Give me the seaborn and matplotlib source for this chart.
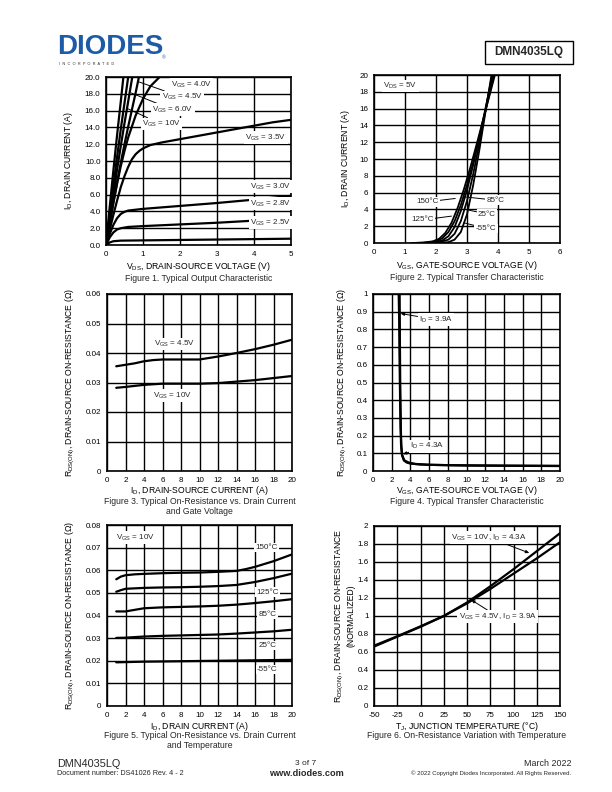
import matplotlib
matplotlib.use("Agg")
import matplotlib.pyplot as plt
from matplotlib.patches import Rectangle
import seaborn as sns

sns.set_theme(style="white")
plt.rcParams["font.family"] = ["Liberation Sans", "DejaVu Sans"]
plt.rcParams["mathtext.fontset"] = "custom"
plt.rcParams["mathtext.rm"] = "Liberation Sans"
plt.rcParams["mathtext.it"] = "Liberation Sans:italic"
plt.rcParams["mathtext.bf"] = "Liberation Sans:bold"
plt.rcParams["axes.unicode_minus"] = False

# ---------------- Figure 1 data: output characteristic ----------------
f1_10v_x = [0, 0.1, 0.2, 0.3, 0.4, 0.47]
f1_10v_y = [0, 4.5, 8.9, 13.1, 17.1, 20]
f1_8v_x = [0, 0.1, 0.2, 0.3, 0.4, 0.5, 0.6]
f1_8v_y = [0, 3.6, 7.1, 10.5, 13.8, 16.9, 20]
f1_6v_x = [0, 0.1, 0.2, 0.3, 0.4, 0.5, 0.6, 0.71]
f1_6v_y = [0, 3.1, 6.1, 9.0, 11.8, 14.5, 17.1, 20]
f1_45v_x = [0, 0.1, 0.2, 0.3, 0.4, 0.5, 0.6, 0.7, 0.8, 0.89]
f1_45v_y = [0, 2.6, 5.1, 7.5, 9.8, 12.0, 14.1, 16.1, 18.1, 20]
f1_40v_x = [0, 0.1, 0.2, 0.3, 0.4, 0.5, 0.6, 0.8, 1.0, 1.2, 1.45]
f1_40v_y = [0, 2.5, 5.0, 7.3, 9.4, 11.2, 12.8, 15.4, 17.4, 18.9, 20]
f1_35v_x = [0, 0.1, 0.2, 0.3, 0.4, 0.5, 0.6, 0.7, 0.8, 0.9, 1.0, 1.2, 1.5, 2, 2.5, 3, 3.5, 4, 4.5, 5]
f1_35v_y = [0, 1.8, 3.6, 5.3, 6.9, 8.2, 9.3, 10.2, 10.8, 11.2, 11.5, 11.9, 12.2, 12.6, 13.0, 13.4, 13.8, 14.2, 14.6, 14.9]
f1_30v_x = [0, 0.1, 0.2, 0.3, 0.4, 0.5, 0.6, 0.8, 1, 2, 3, 4, 5]
f1_30v_y = [0, 1.3, 2.4, 3.2, 3.7, 3.95, 4.1, 4.2, 4.3, 4.65, 5.0, 5.4, 5.85]
f1_28v_x = [0, 0.1, 0.2, 0.3, 0.4, 0.6, 1, 2, 3, 4, 5]
f1_28v_y = [0, 0.9, 1.5, 1.85, 2.0, 2.15, 2.25, 2.45, 2.65, 2.9, 3.15]
f1_25v_x = [0, 0.1, 0.2, 0.4, 1, 2, 3, 4, 5]
f1_25v_y = [0, 0.3, 0.45, 0.52, 0.55, 0.6, 0.65, 0.7, 0.75]

# ---------------- Figure 2 data: transfer characteristic ----------------
f2_150_x = [1.2, 1.6, 1.9, 2.1, 2.3, 2.5, 2.7, 2.9, 3.1, 3.3, 3.5, 3.7, 3.9]
f2_150_y = [0, 0.05, 0.2, 0.5, 1.2, 2.4, 4.2, 6.4, 8.9, 11.6, 14.4, 17.2, 20]
f2_125_x = [1.3, 1.7, 2.0, 2.2, 2.4, 2.6, 2.8, 3.0, 3.2, 3.4, 3.6, 3.87]
f2_125_y = [0, 0.05, 0.2, 0.55, 1.3, 2.6, 4.5, 6.9, 9.6, 12.6, 15.8, 20]
f2_85_x = [1.5, 1.9, 2.2, 2.4, 2.6, 2.8, 3.0, 3.2, 3.4, 3.6, 3.83]
f2_85_y = [0, 0.08, 0.3, 0.8, 1.9, 3.8, 6.3, 9.3, 12.6, 16.1, 20]
f2_25_x = [1.7, 2.1, 2.4, 2.6, 2.8, 3.0, 3.2, 3.4, 3.6, 3.81]
f2_25_y = [0, 0.08, 0.4, 1.1, 2.6, 5.0, 8.2, 11.9, 15.9, 20]
f2_m55_x = [2.0, 2.4, 2.6, 2.8, 3.0, 3.2, 3.4, 3.6, 3.79]
f2_m55_y = [0, 0.1, 0.4, 1.3, 3.4, 6.9, 11.1, 15.7, 20]

# ---------------- Figure 3 data: Rds(on) vs Id and Vgs ----------------
f3_45v_x = [1, 2, 3, 4, 5, 6, 8, 10, 11, 12, 14, 16, 18, 20]
f3_45v_y = [0.0355, 0.036, 0.0365, 0.0372, 0.0376, 0.0378, 0.0378, 0.0378, 0.0383, 0.0388, 0.0400, 0.0413, 0.0428, 0.0445]
f3_10v_x = [1, 2, 4, 6, 8, 10, 12, 14, 16, 18, 20]
f3_10v_y = [0.0282, 0.0285, 0.0292, 0.0296, 0.0296, 0.0296, 0.0298, 0.0303, 0.0308, 0.0315, 0.0322]

# ---------------- Figure 4 data: Rds(on) vs Vgs ----------------
f4_39_x = [2.75, 2.8, 2.85, 2.9, 2.95, 3.0, 3.1, 3.3, 3.6, 4, 5, 6, 8, 10, 12, 15, 20]
f4_39_y = [1.0, 0.85, 0.6, 0.4, 0.25, 0.15, 0.09, 0.06, 0.048, 0.042, 0.037, 0.035, 0.033, 0.032, 0.031, 0.030, 0.029]
f4_43_x = [2.85, 2.88, 2.92, 2.97, 3.03, 3.12, 3.35, 3.8, 4.5, 6, 10, 20]
f4_43_y = [1.0, 0.7, 0.45, 0.25, 0.14, 0.09, 0.06, 0.048, 0.04, 0.035, 0.031, 0.028]

# ---------------- Figure 5 data: Rds(on) vs Id and temperature ----------------
f5_150_x = [1, 1.5, 2, 3, 4, 6, 8, 10, 12, 14, 15, 16, 18, 20]
f5_150_y = [0.056, 0.0572, 0.0578, 0.0582, 0.0584, 0.0587, 0.0589, 0.059, 0.0593, 0.0597, 0.0605, 0.0615, 0.064, 0.067]
f5_125_x = [1, 1.5, 2, 4, 6, 8, 10, 12, 14, 16, 18, 20]
f5_125_y = [0.0505, 0.0512, 0.0518, 0.0522, 0.0524, 0.0525, 0.0527, 0.053, 0.0535, 0.0548, 0.0565, 0.0585]
f5_85_x = [1, 2, 3, 4, 6, 8, 10, 12, 14, 16, 18, 20]
f5_85_y = [0.0418, 0.0418, 0.0425, 0.0432, 0.0436, 0.0438, 0.044, 0.0443, 0.0448, 0.0455, 0.0463, 0.0472]
f5_25_x = [1, 2, 4, 6, 8, 10, 12, 14, 16, 18, 20]
f5_25_y = [0.0301, 0.0302, 0.0307, 0.031, 0.0312, 0.0314, 0.0316, 0.032, 0.0325, 0.033, 0.0337]
f5_m55_x = [1, 2, 4, 6, 8, 10, 12, 14, 16, 18, 20]
f5_m55_y = [0.0193, 0.0194, 0.0196, 0.0197, 0.0198, 0.0199, 0.02, 0.0201, 0.0202, 0.0203, 0.0204]

# ---------------- Figure 6 data: normalized Rds(on) vs Tj ----------------
f6_tj = [-50, -25, 0, 25, 50, 75, 100, 125, 150]
f6_10v = [0.66, 0.77, 0.88, 1.0, 1.15, 1.33, 1.52, 1.72, 1.92]
f6_45v = [0.67, 0.775, 0.885, 1.0, 1.14, 1.30, 1.47, 1.64, 1.82]

# tick labels
f1_xt = [0, 1, 2, 3, 4, 5]
f1_yt = [0, 2, 4, 6, 8, 10, 12, 14, 16, 18, 20]
f1_ytl = ["0.0", "2.0", "4.0", "6.0", "8.0", "10.0", "12.0", "14.0", "16.0", "18.0", "20.0"]
f2_xt = [0, 1, 2, 3, 4, 5, 6]
f2_yt = [0, 2, 4, 6, 8, 10, 12, 14, 16, 18, 20]
f3_xt = [0, 2, 4, 6, 8, 10, 12, 14, 16, 18, 20]
f3_yt = [0, 0.01, 0.02, 0.03, 0.04, 0.05, 0.06]
f3_ytl = ["0", "0.01", "0.02", "0.03", "0.04", "0.05", "0.06"]
f4_yt = [0, 0.1, 0.2, 0.3, 0.4, 0.5, 0.6, 0.7, 0.8, 0.9, 1.0]
f4_ytl = ["0", "0.1", "0.2", "0.3", "0.4", "0.5", "0.6", "0.7", "0.8", "0.9", "1"]
f5_yt = [0, 0.01, 0.02, 0.03, 0.04, 0.05, 0.06, 0.07, 0.08]
f5_ytl = ["0", "0.01", "0.02", "0.03", "0.04", "0.05", "0.06", "0.07", "0.08"]
f6_xt = [-50, -25, 0, 25, 50, 75, 100, 125, 150]
f6_xtl = ["-50", "-25", "0", "25", "50", "75", "100", "125", "150"]
f6_yt = [0, 0.2, 0.4, 0.6, 0.8, 1.0, 1.2, 1.4, 1.6, 1.8, 2.0]
f6_ytl = ["0", "0.2", "0.4", "0.6", "0.8", "1", "1.2", "1.4", "1.6", "1.8", "2"]

W, H = 612, 792
fig = plt.figure(figsize=(6.12, 7.92), dpi=100)
fig.patch.set_facecolor("white")


def axes_px(l, t, r, b):
    return fig.add_axes([l / W, 1 - b / H, (r - l) / W, (b - t) / H])


def ftxt(x, y, s, **kw):
    kw.setdefault("va", "center")
    fig.text(x / W, 1 - y / H, s, **kw)


TS = 5.8
LW = 1.6


def style(ax, xlim, ylim, xt, yt, xtl=None, ytl=None):
    ax.set_xlim(*xlim)
    ax.set_ylim(*ylim)
    ax.set_xticks(xt)
    ax.set_yticks(yt)
    if xtl is not None:
        ax.set_xticklabels(xtl)
    if ytl is not None:
        ax.set_yticklabels(ytl)
    ax.grid(True, color="black", lw=1.0)
    ax.set_axisbelow(True)
    for s in ax.spines.values():
        s.set_color("black")
        s.set_linewidth(1.2)
    ax.tick_params(length=0, labelsize=TS, pad=4, colors="black")


def curve(ax, x, y, lw=LW, color="black"):
    sns.lineplot(x=x, y=y, ax=ax, color=color, lw=lw, estimator=None, sort=False)


def axlabels(ax, xl, yl, xly, ylx):
    ax.set_xlabel(xl, fontsize=6.2, color="black")
    ax.set_ylabel(yl, fontsize=6.2, color="black")
    ax.xaxis.set_label_coords(0.5, xly)
    ax.yaxis.set_label_coords(ylx, 0.5)
    ax.xaxis.label.set_va("center")
    ax.yaxis.label.set_va("center")


box = dict(boxstyle="square,pad=0.15", fc="white", ec="none")
leader = dict(arrowstyle="-", color="black", lw=0.7, shrinkA=0, shrinkB=0)
arrow = dict(arrowstyle="-|>,head_length=0.35,head_width=0.15", color="black", lw=0.7,
             shrinkA=0, shrinkB=0)

# ---------------- Figure 1 ----------------
ax1 = axes_px(106, 77, 291, 245)
style(ax1, (0, 5), (0, 20), f1_xt, f1_yt, None, f1_ytl)
for xs, ys in [(f1_10v_x, f1_10v_y), (f1_8v_x, f1_8v_y), (f1_6v_x, f1_6v_y),
               (f1_45v_x, f1_45v_y), (f1_40v_x, f1_40v_y), (f1_35v_x, f1_35v_y),
               (f1_30v_x, f1_30v_y), (f1_28v_x, f1_28v_y), (f1_25v_x, f1_25v_y)]:
    curve(ax1, xs, ys)
ax1.text(1.75, 19.1, r"V$_{\mathrm{GS}}$ = 4.0V", fontsize=TS, va="center", bbox=box)
ax1.annotate(r"V$_{\mathrm{GS}}$ = 4.5V", xy=(0.9, 19.4), xytext=(1.5, 17.6), fontsize=TS,
             va="center", bbox=box, arrowprops=leader)
ax1.annotate(r"V$_{\mathrm{GS}}$ = 6.0V", xy=(0.68, 18.1), xytext=(1.25, 16.1), fontsize=TS,
             va="center", bbox=box, arrowprops=leader)
ax1.annotate(r"V$_{\mathrm{GS}}$ = 10V", xy=(0.55, 16.3), xytext=(0.97, 14.4), fontsize=TS,
             va="center", bbox=box, arrowprops=leader)
ax1.text(3.76, 12.8, r"V$_{\mathrm{GS}}$ = 3.5V", fontsize=TS, va="center", bbox=box)
ax1.text(3.9, 6.95, r"V$_{\mathrm{GS}}$ = 3.0V", fontsize=TS, va="center", bbox=box)
ax1.text(3.9, 4.95, r"V$_{\mathrm{GS}}$ = 2.8V", fontsize=TS, va="center", bbox=box)
ax1.text(3.9, 2.65, r"V$_{\mathrm{GS}}$ = 2.5V", fontsize=TS, va="center", bbox=box)
axlabels(ax1, r"V$_{\mathrm{DS}}$, DRAIN-SOURCE VOLTAGE (V)",
         r"I$_{\mathrm{D}}$, DRAIN CURRENT (A)", -0.13, -0.205)
ftxt(198.5, 278.5, "Figure 1. Typical Output Characteristic", fontsize=6.2, ha="center")

# ---------------- Figure 2 ----------------
ax2 = axes_px(374, 75, 560, 243)
style(ax2, (0, 6), (0, 20), f2_xt, f2_yt)
for xs, ys in [(f2_150_x, f2_150_y), (f2_125_x, f2_125_y), (f2_85_x, f2_85_y),
               (f2_25_x, f2_25_y), (f2_m55_x, f2_m55_y)]:
    curve(ax2, xs, ys, lw=1.3)
ax2.text(0.3, 18.7, r"V$_{\mathrm{DS}}$ = 5V", fontsize=TS, va="center", bbox=box)
ax2.annotate("150°C", xy=(2.62, 5.3), xytext=(2.08, 4.9), fontsize=TS, ha="right",
             va="center", bbox=box, arrowprops=leader)
ax2.annotate("125°C", xy=(2.5, 3.2), xytext=(1.93, 2.75), fontsize=TS, ha="right",
             va="center", bbox=box, arrowprops=leader)
ax2.annotate("85°C", xy=(2.9, 5.5), xytext=(3.62, 5.1), fontsize=TS, ha="left",
             va="center", bbox=box, arrowprops=leader)
ax2.annotate("25°C", xy=(2.95, 4.0), xytext=(3.35, 3.45), fontsize=TS, ha="left",
             va="center", bbox=box, arrowprops=leader)
ax2.annotate("-55°C", xy=(2.9, 2.4), xytext=(3.28, 1.75), fontsize=TS, ha="left",
             va="center", bbox=box, arrowprops=leader)
axlabels(ax2, r"V$_{\mathrm{GS}}$, GATE-SOURCE VOLTAGE (V)",
         r"I$_{\mathrm{D}}$, DRAIN CURRENT (A)", -0.135, -0.155)
ftxt(467, 277.5, "Figure 2. Typical Transfer Characteristic", fontsize=6.2, ha="center")

# ---------------- Figure 3 ----------------
ax3 = axes_px(107, 294, 292, 471)
style(ax3, (0, 20), (0, 0.06), f3_xt, f3_yt, None, f3_ytl)
curve(ax3, f3_45v_x, f3_45v_y)
curve(ax3, f3_10v_x, f3_10v_y)
ax3.text(5.1, 0.043, r"V$_{\mathrm{GS}}$ = 4.5V", fontsize=TS, va="center", bbox=box)
ax3.text(4.95, 0.0255, r"V$_{\mathrm{GS}}$ = 10V", fontsize=TS, va="center", bbox=box)
R_LBL = r"R$_{\mathrm{DS(ON)}}$, DRAIN-SOURCE ON-RESISTANCE (Ω)"
axlabels(ax3, r"I$_{\mathrm{D}}$, DRAIN-SOURCE CURRENT (A)", R_LBL, -0.11, -0.2)
ftxt(199.5, 501, "Figure 3. Typical On-Resistance vs. Drain Current", fontsize=6.2, ha="center")
ftxt(199.5, 511, "and Gate Voltage", fontsize=6.2, ha="center")

# ---------------- Figure 4 ----------------
ax4 = axes_px(373, 294, 560, 471)
style(ax4, (0, 20), (0, 1), f3_xt, f4_yt, None, f4_ytl)
curve(ax4, f4_39_x, f4_39_y)
curve(ax4, f4_43_x, f4_43_y)
ax4.annotate(r"I$_{\mathrm{D}}$ = 3.9A", xy=(2.95, 0.89), xytext=(4.9, 0.855), fontsize=TS,
             va="center", bbox=box, arrowprops=arrow)
ax4.annotate(r"I$_{\mathrm{D}}$ = 4.3A", xy=(3.2, 0.095), xytext=(4.0, 0.14), fontsize=TS,
             va="center", bbox=box, arrowprops=arrow)
axlabels(ax4, r"V$_{\mathrm{GS}}$, GATE-SOURCE VOLTAGE (V)", R_LBL, -0.11, -0.165)
ftxt(466.5, 501, "Figure 4. Typical Transfer Characteristic", fontsize=6.2, ha="center")

# ---------------- Figure 5 ----------------
ax5 = axes_px(107, 525, 292, 706)
style(ax5, (0, 20), (0, 0.08), f3_xt, f5_yt, None, f5_ytl)
for xs, ys in [(f5_150_x, f5_150_y), (f5_125_x, f5_125_y), (f5_85_x, f5_85_y),
               (f5_25_x, f5_25_y), (f5_m55_x, f5_m55_y)]:
    curve(ax5, xs, ys)
ax5.text(1.0, 0.0745, r"V$_{\mathrm{GS}}$ = 10V", fontsize=TS, va="center", bbox=box)
ax5.text(16.0, 0.0700, "150°C", fontsize=TS, va="center", bbox=box)
ax5.text(16.1, 0.0503, "125°C", fontsize=TS, va="center", bbox=box)
ax5.text(16.4, 0.0404, "85°C", fontsize=TS, va="center", bbox=box)
ax5.text(16.4, 0.0267, "25°C", fontsize=TS, va="center", bbox=box)
ax5.text(16.2, 0.0161, "-55°C", fontsize=TS, va="center", bbox=box)
axlabels(ax5, r"I$_{\mathrm{D}}$, DRAIN CURRENT (A)", R_LBL, -0.112, -0.2)
ftxt(199.5, 736, "Figure 5. Typical On-Resistance vs. Drain Current", fontsize=6.2, ha="center")
ftxt(199.5, 746, "and Temperature", fontsize=6.2, ha="center")

# ---------------- Figure 6 ----------------
ax6 = axes_px(374, 526, 560, 706)
style(ax6, (-50, 150), (0, 2), f6_xt, f6_yt, f6_xtl, f6_ytl)
curve(ax6, f6_tj, f6_10v)
curve(ax6, f6_tj, f6_45v)
ax6.annotate(r"V$_{\mathrm{GS}}$ = 10V, I$_{\mathrm{D}}$ = 4.3A", xy=(117, 1.70),
             xytext=(33, 1.87), fontsize=TS, va="center", bbox=box, arrowprops=arrow)
ax6.annotate(r"V$_{\mathrm{GS}}$ = 4.5V, I$_{\mathrm{D}}$ = 3.9A", xy=(54.5, 1.18),
             xytext=(41, 0.995), fontsize=TS, va="center", bbox=box, arrowprops=arrow)
axlabels(ax6, r"T$_{\mathrm{J}}$, JUNCTION TEMPERATURE (°C)",
         r"R$_{\mathrm{DS(ON)}}$, DRAIN-SOURCE ON-RESISTANCE" + "\n(NORMALIZED)", -0.112, -0.16)
ftxt(467, 736, "Figure 6. On-Resistance Variation with Temperature", fontsize=6.2, ha="center")

# ---------------- Header ----------------
ftxt(57, 47, "DIODES", fontsize=20, fontweight="bold", color="#1d5ba6", ha="left")
ftxt(59, 64, "I  N  C  O  R  P  O  R  A  T  E  D", fontsize=2.8, color="#333333", ha="left")
ftxt(164, 58, "®", fontsize=3.5, color="#1d5ba6", ha="center")
fig.patches.append(Rectangle((485 / W, 1 - 64 / H), 88 / W, 23 / H, transform=fig.transFigure,
                             fill=False, ec="black", lw=1.0))
ftxt(529, 52.5, "DMN4035LQ", fontsize=8.5, fontweight="bold", ha="center")

# ---------------- Footer ----------------
ftxt(57, 764, "DMN4035LQ", fontsize=7.8, ha="left")
ftxt(57, 773.5, "Document number: DS41026 Rev. 4 - 2", fontsize=5.2, ha="left")
ftxt(306, 763.5, "3 of 7", fontsize=6, ha="center")
ftxt(306, 773, "www.diodes.com", fontsize=6.6, fontweight="bold", ha="center")
ftxt(571, 764, "March 2022", fontsize=6.4, ha="right")
ftxt(571, 773, "© 2022 Copyright Diodes Incorporated. All Rights Reserved.", fontsize=4.3,
     ha="right")

fig.savefig("out.png", dpi=100, facecolor="white")
